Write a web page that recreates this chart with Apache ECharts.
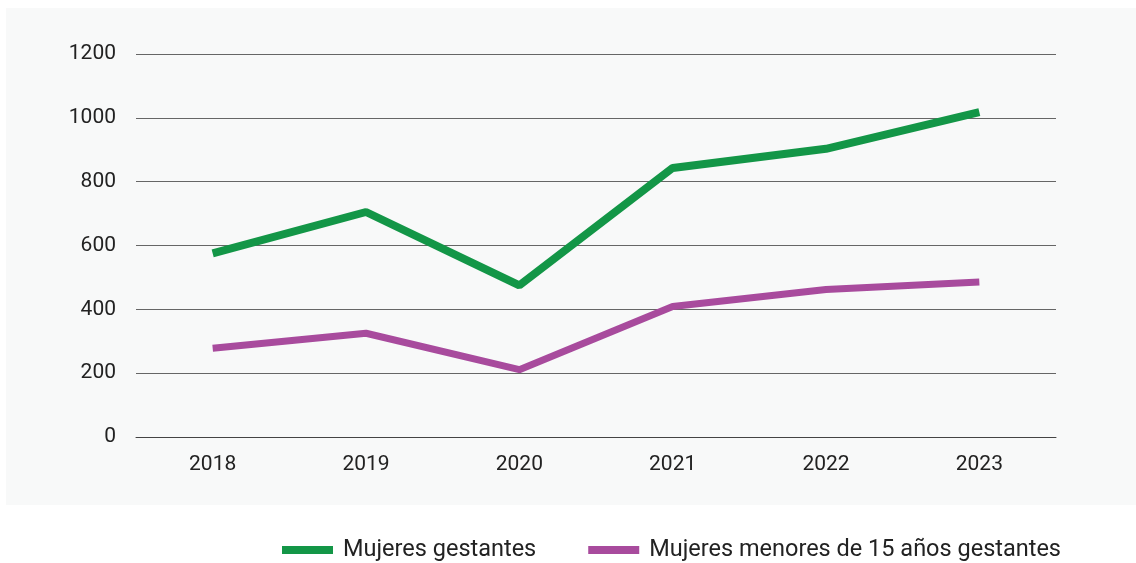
<!DOCTYPE html>
<html>
<head>
<meta charset="utf-8">
<script src="https://cdn.jsdelivr.net/npm/echarts@6/dist/echarts.min.js"></script>
<style>
html,body{margin:0;padding:0;background:#fff;}
#c{width:1136px;height:563px;}
</style>
</head>
<body>
<div id="c"></div>
<script>
var years = ['2018','2019','2020','2021','2022','2023'];
var gestantes = [575, 705, 475, 843, 903, 1018];
var menores15 = [278, 325, 211, 409, 462, 486];
var yTicks = [0, 200, 400, 600, 800, 1000, 1200];

var chart = echarts.init(document.getElementById('c'));
var font = 'Roboto, "Noto Sans", sans-serif';
chart.setOption({
  animation: false,
  graphic: [{
    type: 'rect', z: -10, silent: true,
    shape: {x: 6, y: 8, width: 1130, height: 497},
    style: {fill: '#f8f9f9'}
  }],
  grid: {left: 136, right: 80, top: 54, bottom: 126},
  legend: {
    top: 533, left: 277,
    itemWidth: 51, itemHeight: 8, itemGap: 52,
    icon: 'rect',
    textStyle: {fontFamily: font, fontSize: 23.5, color: '#222', padding: [0, 0, 0, 5]},
    data: ['Mujeres gestantes', 'Mujeres menores de 15 años gestantes']
  },
  xAxis: {
    type: 'category', data: years, boundaryGap: true,
    axisLine: {show: true, lineStyle: {color: '#444', width: 1}},
    axisTick: {show: false},
    axisLabel: {fontFamily: font, fontSize: 21, color: '#222', margin: 17}
  },
  yAxis: {
    type: 'value', min: 0, max: 1200, interval: 200,
    axisLine: {show: false}, axisTick: {show: false},
    splitLine: {lineStyle: {color: '#666', width: 1}},
    axisLabel: {fontFamily: font, fontSize: 21, color: '#222', margin: 20,
      formatter: function(v){ return yTicks.indexOf(v) >= 0 ? String(v) : ''; }}
  },
  series: [{
    name: 'Mujeres gestantes', type: 'line', data: gestantes,
    symbol: 'none', lineStyle: {color: '#139647', width: 8},
    itemStyle: {color: '#139647'}
  }, {
    name: 'Mujeres menores de 15 años gestantes', type: 'line', data: menores15,
    symbol: 'none', lineStyle: {color: '#a84b9d', width: 7},
    itemStyle: {color: '#a84b9d'}
  }]
});
</script>
</body>
</html>
